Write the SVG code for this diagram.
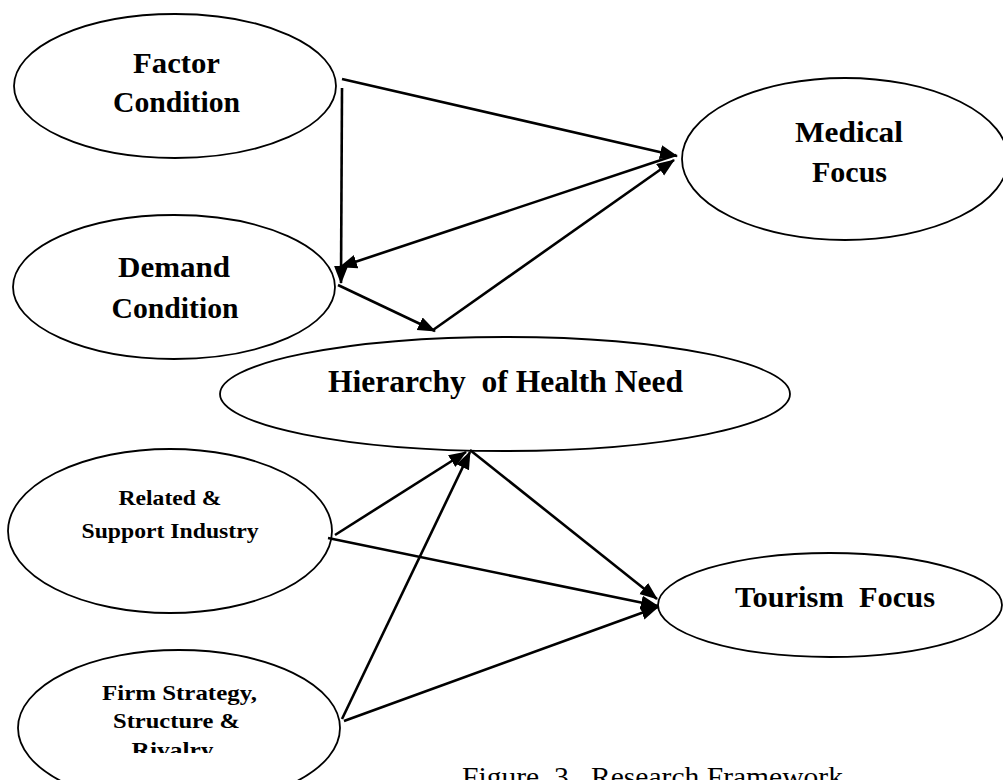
<svg xmlns="http://www.w3.org/2000/svg" width="1003" height="780" viewBox="0 0 1003 780">
  <style>
    .node ellipse { fill: #ffffff; stroke: #000000; stroke-width: 1.8; }
    .label { font-family: "Liberation Serif", "Times New Roman", serif; font-weight: bold; fill: #000000; text-anchor: middle; }
    .big { font-size: 30px; }
    .small { font-size: 22px; }
    .caption { font-family: "Liberation Serif", "Times New Roman", serif; font-size: 28px; fill: #000000; }
    .edge { stroke: #000000; stroke-width: 2.6; fill: none; marker-end: url(#arrow); }
  </style>
  <defs>
    <marker id="arrow" markerUnits="userSpaceOnUse" markerWidth="19" markerHeight="15" refX="17" refY="7" orient="auto">
      <path d="M0,0 L18,7 L0,14 z" fill="#000000"/>
    </marker>
    <clipPath id="firmClip">
      <rect x="0" y="640" width="360" height="113"/>
    </clipPath>
  </defs>
  <rect width="1003" height="780" fill="#ffffff"/>

  <g id="factor-condition" class="node">
    <ellipse cx="175" cy="86" rx="161" ry="72"/>
    <text class="label big" x="176.5" y="73" textLength="87" lengthAdjust="spacingAndGlyphs">Factor</text>
    <text class="label big" x="176.5" y="112" textLength="127" lengthAdjust="spacingAndGlyphs">Condition</text>
  </g>

  <g id="demand-condition" class="node">
    <ellipse cx="174" cy="287" rx="161" ry="72"/>
    <text class="label big" x="174" y="277" textLength="112" lengthAdjust="spacingAndGlyphs">Demand</text>
    <text class="label big" x="175" y="318" textLength="127" lengthAdjust="spacingAndGlyphs">Condition</text>
  </g>

  <g id="medical-focus" class="node">
    <ellipse cx="845" cy="159" rx="163" ry="81"/>
    <text class="label big" x="849" y="142" textLength="108" lengthAdjust="spacingAndGlyphs">Medical</text>
    <text class="label big" x="849.5" y="182" textLength="75" lengthAdjust="spacingAndGlyphs">Focus</text>
  </g>

  <g id="hierarchy-of-health-need" class="node">
    <ellipse cx="505" cy="394" rx="285" ry="57"/>
    <text class="label" style="font-size:31px" x="505.5" y="392" textLength="355" lengthAdjust="spacingAndGlyphs" xml:space="preserve">Hierarchy  of Health Need</text>
  </g>

  <g id="related-support-industry" class="node">
    <ellipse cx="170" cy="531" rx="162" ry="82"/>
    <text class="label small" x="170" y="505" textLength="103" lengthAdjust="spacingAndGlyphs">Related &amp;</text>
    <text class="label small" x="170" y="538" textLength="177" lengthAdjust="spacingAndGlyphs">Support Industry</text>
  </g>

  <g id="firm-strategy" class="node">
    <ellipse cx="179" cy="728" rx="161" ry="78"/>
    <text class="label small" x="179.5" y="700" textLength="155" lengthAdjust="spacingAndGlyphs">Firm Strategy,</text>
    <text class="label small" x="176.5" y="728" textLength="127" lengthAdjust="spacingAndGlyphs">Structure &amp;</text>
    <text class="label small" x="172.5" y="757" textLength="82" lengthAdjust="spacingAndGlyphs" clip-path="url(#firmClip)">Rivalry</text>
  </g>

  <g id="tourism-focus" class="node">
    <ellipse cx="830" cy="605" rx="172" ry="52"/>
    <text class="label big" x="835" y="607" textLength="200" lengthAdjust="spacingAndGlyphs" xml:space="preserve">Tourism  Focus</text>
  </g>

  <g id="connectors">
    <!-- from Factor Condition -->
    <line class="edge" x1="342" y1="79" x2="677" y2="156"/>
    <line class="edge" x1="342" y1="88" x2="341" y2="283"/>
    <!-- from Demand Condition -->
    <line class="edge" x1="676" y1="155" x2="340" y2="267"/>
    <line class="edge" x1="338" y1="285" x2="435" y2="331"/>
    <!-- from Hierarchy of Health Need -->
    <line class="edge" x1="433" y1="330" x2="674" y2="160"/>
    <line class="edge" x1="470" y1="450" x2="657" y2="599"/>
    <!-- from Related & Support Industry -->
    <line class="edge" x1="335" y1="535" x2="466" y2="452"/>
    <line class="edge" x1="328" y1="538" x2="658" y2="606"/>
    <!-- from Firm Strategy, Structure & Rivalry -->
    <line class="edge" x1="342" y1="719" x2="470" y2="452"/>
    <line class="edge" x1="344" y1="721" x2="658" y2="607"/>
  </g>

  <text class="caption" x="462" y="786" textLength="381" lengthAdjust="spacingAndGlyphs" xml:space="preserve">Figure  3.  Research Framework</text>
</svg>
